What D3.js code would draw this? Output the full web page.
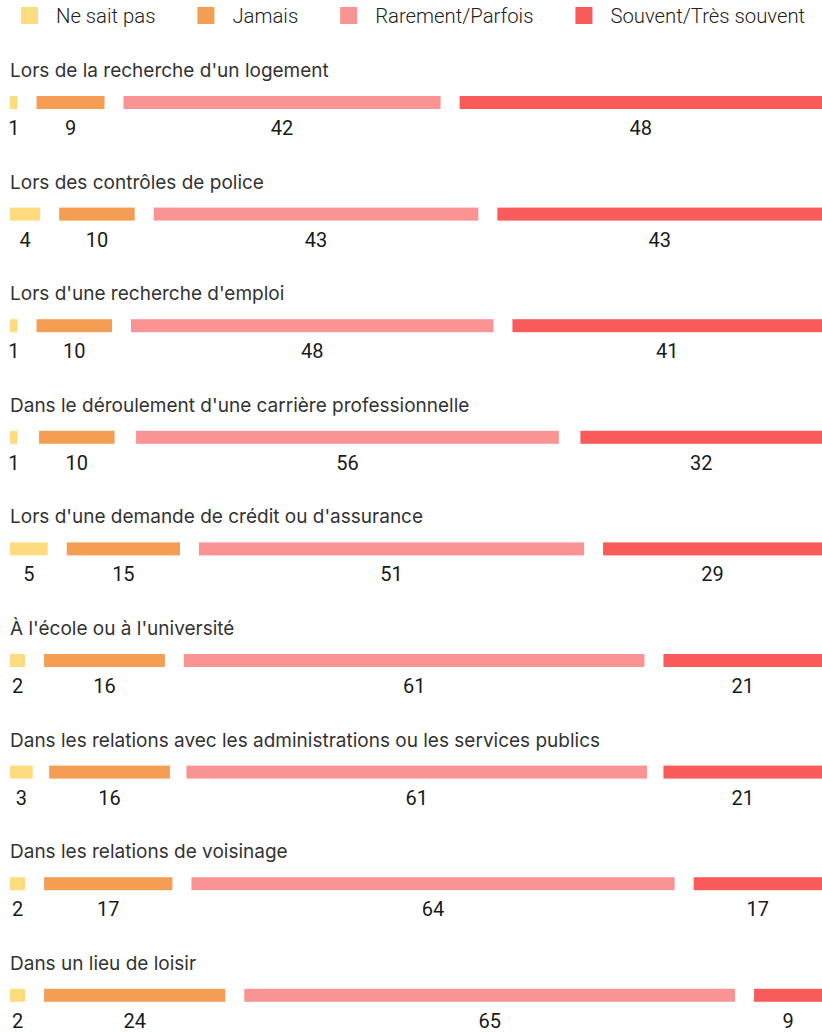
<!DOCTYPE html>
<html>
<head>
<meta charset="utf-8">
<script src="https://cdn.jsdelivr.net/npm/d3@7"></script>
<style>
  body { margin: 0; background: #fff; }
  .cat-label { font-family: Inter, Roboto, sans-serif; font-size: 19px; fill: #333; }
  .val-label { font-family: Roboto, sans-serif; font-size: 20px; fill: #1a1a1a; }
  .legend text { font-family: Roboto, sans-serif; font-weight: 300; font-size: 20.3px; fill: #222; }
</style>
</head>
<body>
<svg id="chart" width="822" height="1032"></svg>
<script>
var categories = [
  "Lors de la recherche d'un logement",
  "Lors des contrôles de police",
  "Lors d'une recherche d'emploi",
  "Dans le déroulement d'une carrière professionnelle",
  "Lors d'une demande de crédit ou d'assurance",
  "À l'école ou à l'université",
  "Dans les relations avec les administrations ou les services publics",
  "Dans les relations de voisinage",
  "Dans un lieu de loisir"
];
var seriesNames = ["Ne sait pas", "Jamais", "Rarement/Parfois", "Souvent/Très souvent"];
var neSaitPas = [1, 4, 1, 1, 5, 2, 3, 2, 2];
var jamais    = [9, 10, 10, 10, 15, 16, 16, 17, 24];
var rarement  = [42, 43, 48, 56, 51, 61, 61, 64, 65];
var souvent   = [48, 43, 41, 32, 29, 21, 21, 17, 9];
var colors = ["#fedb7e", "#f49e54", "#fa9393", "#f95b5b"];

var svg = d3.select("#chart"),
    margin = {left: 10, right: 0},
    width = +svg.attr("width") - margin.left - margin.right,
    baseGap = 19,
    barHeight = 13;

// one row per category, value -> pixels is the same for every row,
// the gaps between segments absorb whatever is left over
var y = d3.scaleBand().domain(categories).range([58, 58 + 9 * 111.6]);
var x = d3.scaleLinear().domain([0, 100]).range([0, width - 3 * baseGap]);

var rows = categories.map(function(c, i) {
  var vals = [neSaitPas[i], jamais[i], rarement[i], souvent[i]];
  var total = d3.sum(vals);
  var gap = (width - x(total)) / 3;
  var pos = margin.left, segs = [];
  vals.forEach(function(v, k) {
    segs.push({v: v, k: k, x0: pos, w: x(v)});
    pos += x(v) + gap;
  });
  return {cat: c, segs: segs};
});

// legend
var legend = svg.append("g").attr("class", "legend");
var lx = 21;
seriesNames.forEach(function(name, k) {
  var item = legend.append("g").attr("transform", "translate(" + lx + ",0)");
  item.append("rect").attr("x", 0).attr("y", 7).attr("width", 17).attr("height", 17).attr("fill", colors[k]);
  var t = item.append("text").attr("x", 35).attr("y", 23).text(name);
  lx += 35 + t.node().getComputedTextLength() + 42;
});

var row = svg.selectAll(".row")
  .data(rows)
  .enter().append("g")
    .attr("class", "row")
    .attr("transform", function(d) { return "translate(0," + y(d.cat) + ")"; });

row.append("text")
  .attr("class", "cat-label")
  .attr("x", margin.left)
  .attr("y", 19)
  .text(function(d) { return d.cat; });

row.selectAll("rect")
  .data(function(d) { return d.segs; })
  .enter().append("rect")
    .attr("x", function(d) { return d.x0; })
    .attr("y", 38)
    .attr("width", function(d) { return d.w; })
    .attr("height", barHeight)
    .attr("fill", function(d) { return colors[d.k]; });

row.selectAll(".val-label")
  .data(function(d) { return d.segs; })
  .enter().append("text")
    .attr("class", "val-label")
    .attr("x", function(d) { return d.x0 + d.w / 2; })
    .attr("y", 77)
    .attr("text-anchor", "middle")
    .text(function(d) { return d.v; });
</script>
</body>
</html>
